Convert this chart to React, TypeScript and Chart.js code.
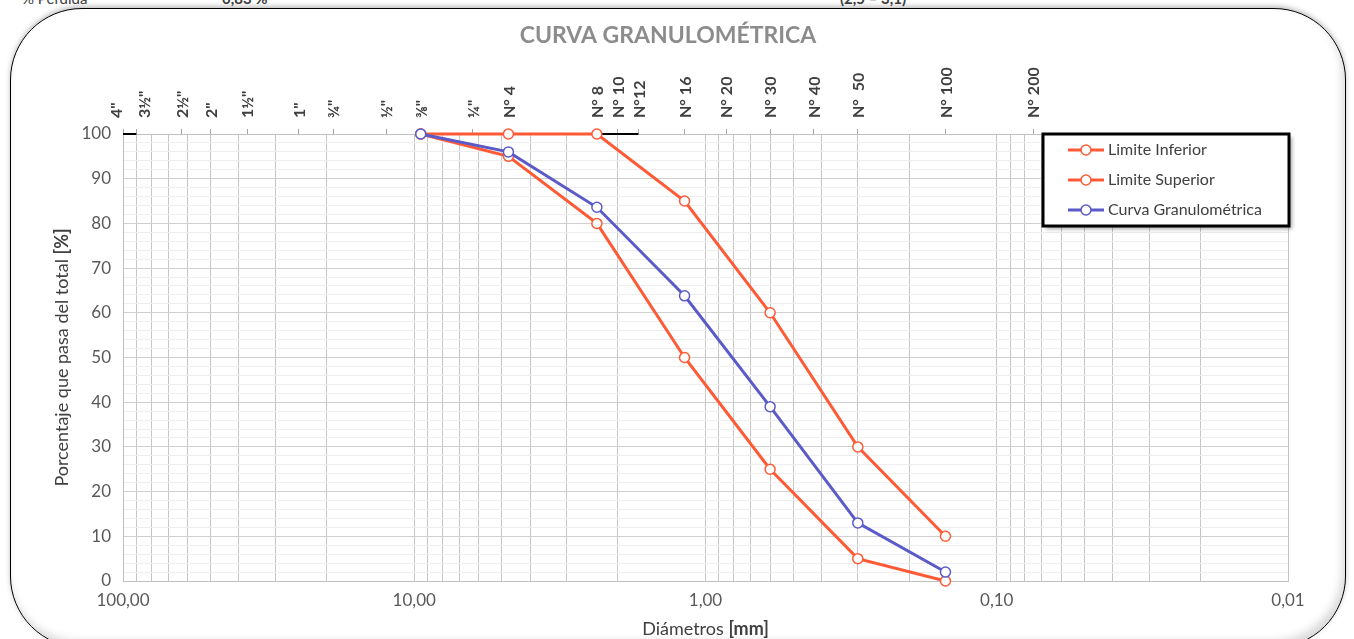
import React, { useEffect, useRef } from "react";
import { Chart, registerables } from "chart.js";

Chart.register(...registerables);

// ---------- data ----------
const chartTitle = "CURVA GRANULOMÉTRICA";

const sieveLabels = ['4"', '3½"', '2½"', '2"', '1½"', '1"', '¾"', '½"', '⅜"', '¼"', "N° 4", "N° 8", "N° 10", "N°12", "N° 16", "N° 20", "N° 30", "N° 40", "N°  50", "N° 100", "N° 200"];
const sieveSizes = [100, 90, 63, 50, 37.5, 25, 19, 12.5, 9.5, 6.3, 4.75, 2.36, 2.0, 1.7, 1.18, 0.85, 0.6, 0.425, 0.3, 0.15, 0.075];

const xGridValues = [
  0.01, 0.02, 0.03, 0.04, 0.05, 0.06, 0.07, 0.08, 0.09,
  0.1, 0.2, 0.3, 0.4, 0.5, 0.6, 0.7, 0.8, 0.9,
  1, 2, 3, 4, 5, 6, 7, 8, 9,
  10, 20, 30, 40, 50, 60, 70, 80, 90,
  100,
];
const yGridValues = [0, 2, 4, 6, 8, 10, 12, 14, 16, 18, 20, 22, 24, 26, 28, 30, 32, 34, 36, 38, 40, 42, 44, 46, 48, 50, 52, 54, 56, 58, 60, 62, 64, 66, 68, 70, 72, 74, 76, 78, 80, 82, 84, 86, 88, 90, 92, 94, 96, 98, 100];

const testSizes = [9.5, 4.75, 2.36, 1.18, 0.6, 0.3, 0.15];
const limiteInferior = [100, 95, 80, 50, 25, 5, 0];
const limiteSuperior = [100, 100, 100, 85, 60, 30, 10];
const curvaGranulometrica = [100, 96, 83.6, 63.8, 39, 13, 2];

const marcaAuxSegmentos = [[100, 90], [2.36, 1.7]];
const marcaAuxValor = 100;

const seriesNames = ["Limite Inferior", "Limite Superior", "Curva Granulométrica"];

// ---------- styles ----------
const ORANGE = "#FF5A36";
const BLUE = "#5A5AC8";
const FONT = "Lato, 'Open Sans', sans-serif";

function drawMixed(ctx: CanvasRenderingContext2D, parts: { t: string; b: boolean }[], cx: number, cy: number, size: number, color: string) {
  const widths = parts.map((p) => {
    ctx.font = `${p.b ? "bold " : ""}${size}px ${FONT}`;
    return ctx.measureText(p.t).width;
  });
  const total = widths.reduce((a, b) => a + b, 0);
  let x = cx - total / 2;
  ctx.fillStyle = color;
  ctx.textAlign = "left";
  ctx.textBaseline = "middle";
  parts.forEach((p, i) => {
    ctx.font = `${p.b ? "bold " : ""}${size}px ${FONT}`;
    ctx.fillText(p.t, x, cy);
    x += widths[i];
  });
}

const overlayPlugin = {
  id: "overlay",
  afterDraw(chart: any) {
    const ctx: CanvasRenderingContext2D = chart.ctx;
    const ca = chart.chartArea;
    ctx.save();
    // title
    ctx.font = `bold 23px ${FONT}`;
    ctx.fillStyle = "#8c8c8c";
    ctx.textAlign = "center";
    ctx.textBaseline = "middle";
    ctx.fillText(chartTitle, 668, 36);

    // sieve labels (top axis), spreading labels that would overlap
    const top = chart.scales.xTop;
    const pos = sieveSizes.map((v) => top.getPixelForValue(v) + 1);
    for (let i = 0; i < pos.length - 1; i++) {
      if (pos[i + 1] - pos[i] < 16) {
        const mid = (pos[i] + pos[i + 1]) / 2;
        pos[i] = mid - 14;
        pos[i + 1] = mid + 14;
      }
    }
    ctx.font = `bold 16px ${FONT}`;
    ctx.fillStyle = "#404040";
    sieveLabels.forEach((lab, i) => {
      ctx.save();
      ctx.translate(pos[i], ca.top - 16);
      ctx.rotate(-Math.PI / 2);
      ctx.textAlign = "left";
      ctx.textBaseline = "middle";
      ctx.fillText(lab, 0, 0);
      ctx.restore();
    });

    // x axis title
    drawMixed(ctx, [{ t: "Diámetros ", b: false }, { t: "[mm]", b: true }], (ca.left + ca.right) / 2, 629, 18, "#404040");

    // y axis title
    ctx.save();
    ctx.translate(62, (ca.top + ca.bottom) / 2);
    ctx.rotate(-Math.PI / 2);
    drawMixed(ctx, [{ t: "Porcentaje que pasa del total ", b: false }, { t: "[%]", b: true }], 0, 0, 18, "#404040");
    ctx.restore();

    // legend
    const lx = ca.right - 245;
    const ly = ca.top;
    const lw = 246;
    const lh = 92;
    ctx.save();
    ctx.shadowColor = "rgba(0,0,0,0.35)";
    ctx.shadowOffsetX = 3;
    ctx.shadowOffsetY = 3;
    ctx.shadowBlur = 4;
    ctx.fillStyle = "#ffffff";
    ctx.fillRect(lx, ly, lw, lh);
    ctx.restore();
    ctx.lineWidth = 3;
    ctx.strokeStyle = "#000000";
    ctx.strokeRect(lx, ly, lw, lh);

    const legendDs = chart.data.datasets.filter((d: any) => seriesNames.includes(d.label));
    legendDs.sort((a: any, b: any) => seriesNames.indexOf(a.label) - seriesNames.indexOf(b.label));
    legendDs.forEach((d: any, i: number) => {
      const y = ly + 16 + i * 30;
      ctx.strokeStyle = d.borderColor;
      ctx.lineWidth = 3;
      ctx.beginPath();
      ctx.moveTo(lx + 25, y);
      ctx.lineTo(lx + 61, y);
      ctx.stroke();
      ctx.beginPath();
      ctx.arc(lx + 43, y, 5, 0, Math.PI * 2);
      ctx.fillStyle = "#ffffff";
      ctx.fill();
      ctx.lineWidth = 1.5;
      ctx.stroke();
      ctx.font = `16px ${FONT}`;
      ctx.fillStyle = "#404040";
      ctx.textAlign = "left";
      ctx.textBaseline = "middle";
      ctx.fillText(d.label, lx + 65, y);
    });
    ctx.restore();
  },
};

function isDecade(v: number) {
  const l = Math.log10(v);
  return Math.abs(l - Math.round(l)) < 1e-9;
}

export default function App() {
  const ref = useRef<HTMLCanvasElement | null>(null);

  useEffect(() => {
    if (!ref.current) return;
    const mk = (label: string, ys: number[], color: string, order: number) => ({
      label,
      data: testSizes.map((x, i) => ({ x, y: ys[i] })),
      borderColor: color,
      backgroundColor: "#ffffff",
      pointBackgroundColor: "#ffffff",
      pointBorderColor: color,
      pointRadius: 5,
      pointBorderWidth: 1.5,
      borderWidth: 3,
      tension: 0,
      clip: false,
      order,
      xAxisID: "x",
      yAxisID: "y",
    });
    const aux = marcaAuxSegmentos.map((seg, i) => ({
      label: "aux" + i,
      data: seg.map((x) => ({ x, y: marcaAuxValor })),
      borderColor: "#000000",
      borderWidth: 2,
      pointRadius: 0,
      clip: false,
      order: 5,
      xAxisID: "x",
      yAxisID: "y",
    }));

    const chart = new Chart(ref.current, {
      type: "line",
      data: {
        datasets: [
          mk(seriesNames[0], limiteInferior, ORANGE, 2),
          mk(seriesNames[1], limiteSuperior, ORANGE, 1),
          mk(seriesNames[2], curvaGranulometrica, BLUE, 0),
          ...aux,
        ] as any,
      },
      options: {
        responsive: false,
        animation: false,
        events: [],
        layout: { padding: { left: 0, right: 66, top: 0, bottom: 0 } },
        plugins: {
          legend: { display: false },
          title: { display: false },
          tooltip: { enabled: false },
        },
        scales: {
          x: {
            type: "logarithmic",
            position: "bottom",
            min: 0.01,
            max: 100,
            reverse: true,
            afterBuildTicks: (s: any) => {
              s.ticks = xGridValues.map((v) => ({ value: v, major: isDecade(v) }));
            },
            afterFit: (s: any) => {
              s.height = 58;
            },
            ticks: {
              autoSkip: false,
              maxRotation: 0,
              minRotation: 0,
              padding: 9,
              color: "#595959",
              font: { family: FONT, size: 17 },
              callback: (v: any) => (isDecade(Number(v)) ? Number(v).toFixed(2).replace(".", ",") : ""),
            },
            grid: { color: "#c6c6c6", lineWidth: 1, drawTicks: false },
            border: { color: "#bfbfbf", width: 1 },
          },
          xTop: {
            type: "logarithmic",
            position: "top",
            min: 0.01,
            max: 100,
            reverse: true,
            afterBuildTicks: (s: any) => {
              s.ticks = sieveSizes.map((v) => ({ value: v }));
            },
            afterFit: (s: any) => {
              s.height = 134;
            },
            ticks: {
              display: false,
              autoSkip: false,
            },
            grid: { drawOnChartArea: false, drawTicks: true, tickLength: 5, color: "#a6a6a6" },
            border: { color: "#bfbfbf", width: 1 },
          },
          y: {
            type: "linear",
            position: "left",
            min: 0,
            max: 100,
            afterBuildTicks: (s: any) => {
              s.ticks = yGridValues.map((v) => ({ value: v }));
            },
            afterFit: (s: any) => {
              s.width = 123;
            },
            ticks: {
              autoSkip: false,
              padding: 12,
              color: "#595959",
              font: { family: FONT, size: 17 },
              callback: (v: any) => (Number(v) % 10 === 0 ? String(v) : ""),
            },
            grid: {
              drawTicks: false,
              color: (c: any) => (c.tick && c.tick.value % 10 === 0 ? "#d0d0d0" : "#eeeeee"),
              lineWidth: 1,
            },
            border: { color: "#bfbfbf", width: 1 },
          },
        },
      },
      plugins: [overlayPlugin],
    } as any);
    return () => chart.destroy();
  }, []);

  return (
    <div style={{ position: "fixed", left: 0, top: 0, width: 1354, height: 639, overflow: "hidden", background: "#ffffff", fontFamily: FONT }}>
      <div style={{ position: "absolute", top: -10, left: 0, width: 1354, height: 17, fontSize: 15, lineHeight: "17px", color: "#404040", whiteSpace: "nowrap" }}>
        <span style={{ position: "absolute", left: 22 }}>% Perdida</span>
        <span style={{ position: "absolute", left: 222, fontWeight: "bold" }}>0,83 %</span>
        <span style={{ position: "absolute", left: 840, fontWeight: "bold" }}>(2,5 – 3,1)</span>
      </div>
      <div
        style={{
          position: "absolute",
          left: 10,
          top: 8,
          width: 1336,
          height: 640,
          boxSizing: "border-box",
          border: "1.5px solid #000",
          borderRadius: 72,
          background: "#ffffff",
          boxShadow: "inset -3px -6px 8px rgba(0,0,0,0.15), 0 -2px 5px rgba(0,0,0,0.25)",
        }}
      />
      <canvas ref={ref} width={1354} height={639} style={{ position: "absolute", left: 0, top: 0, width: 1354, height: 639 }} />
    </div>
  );
}
